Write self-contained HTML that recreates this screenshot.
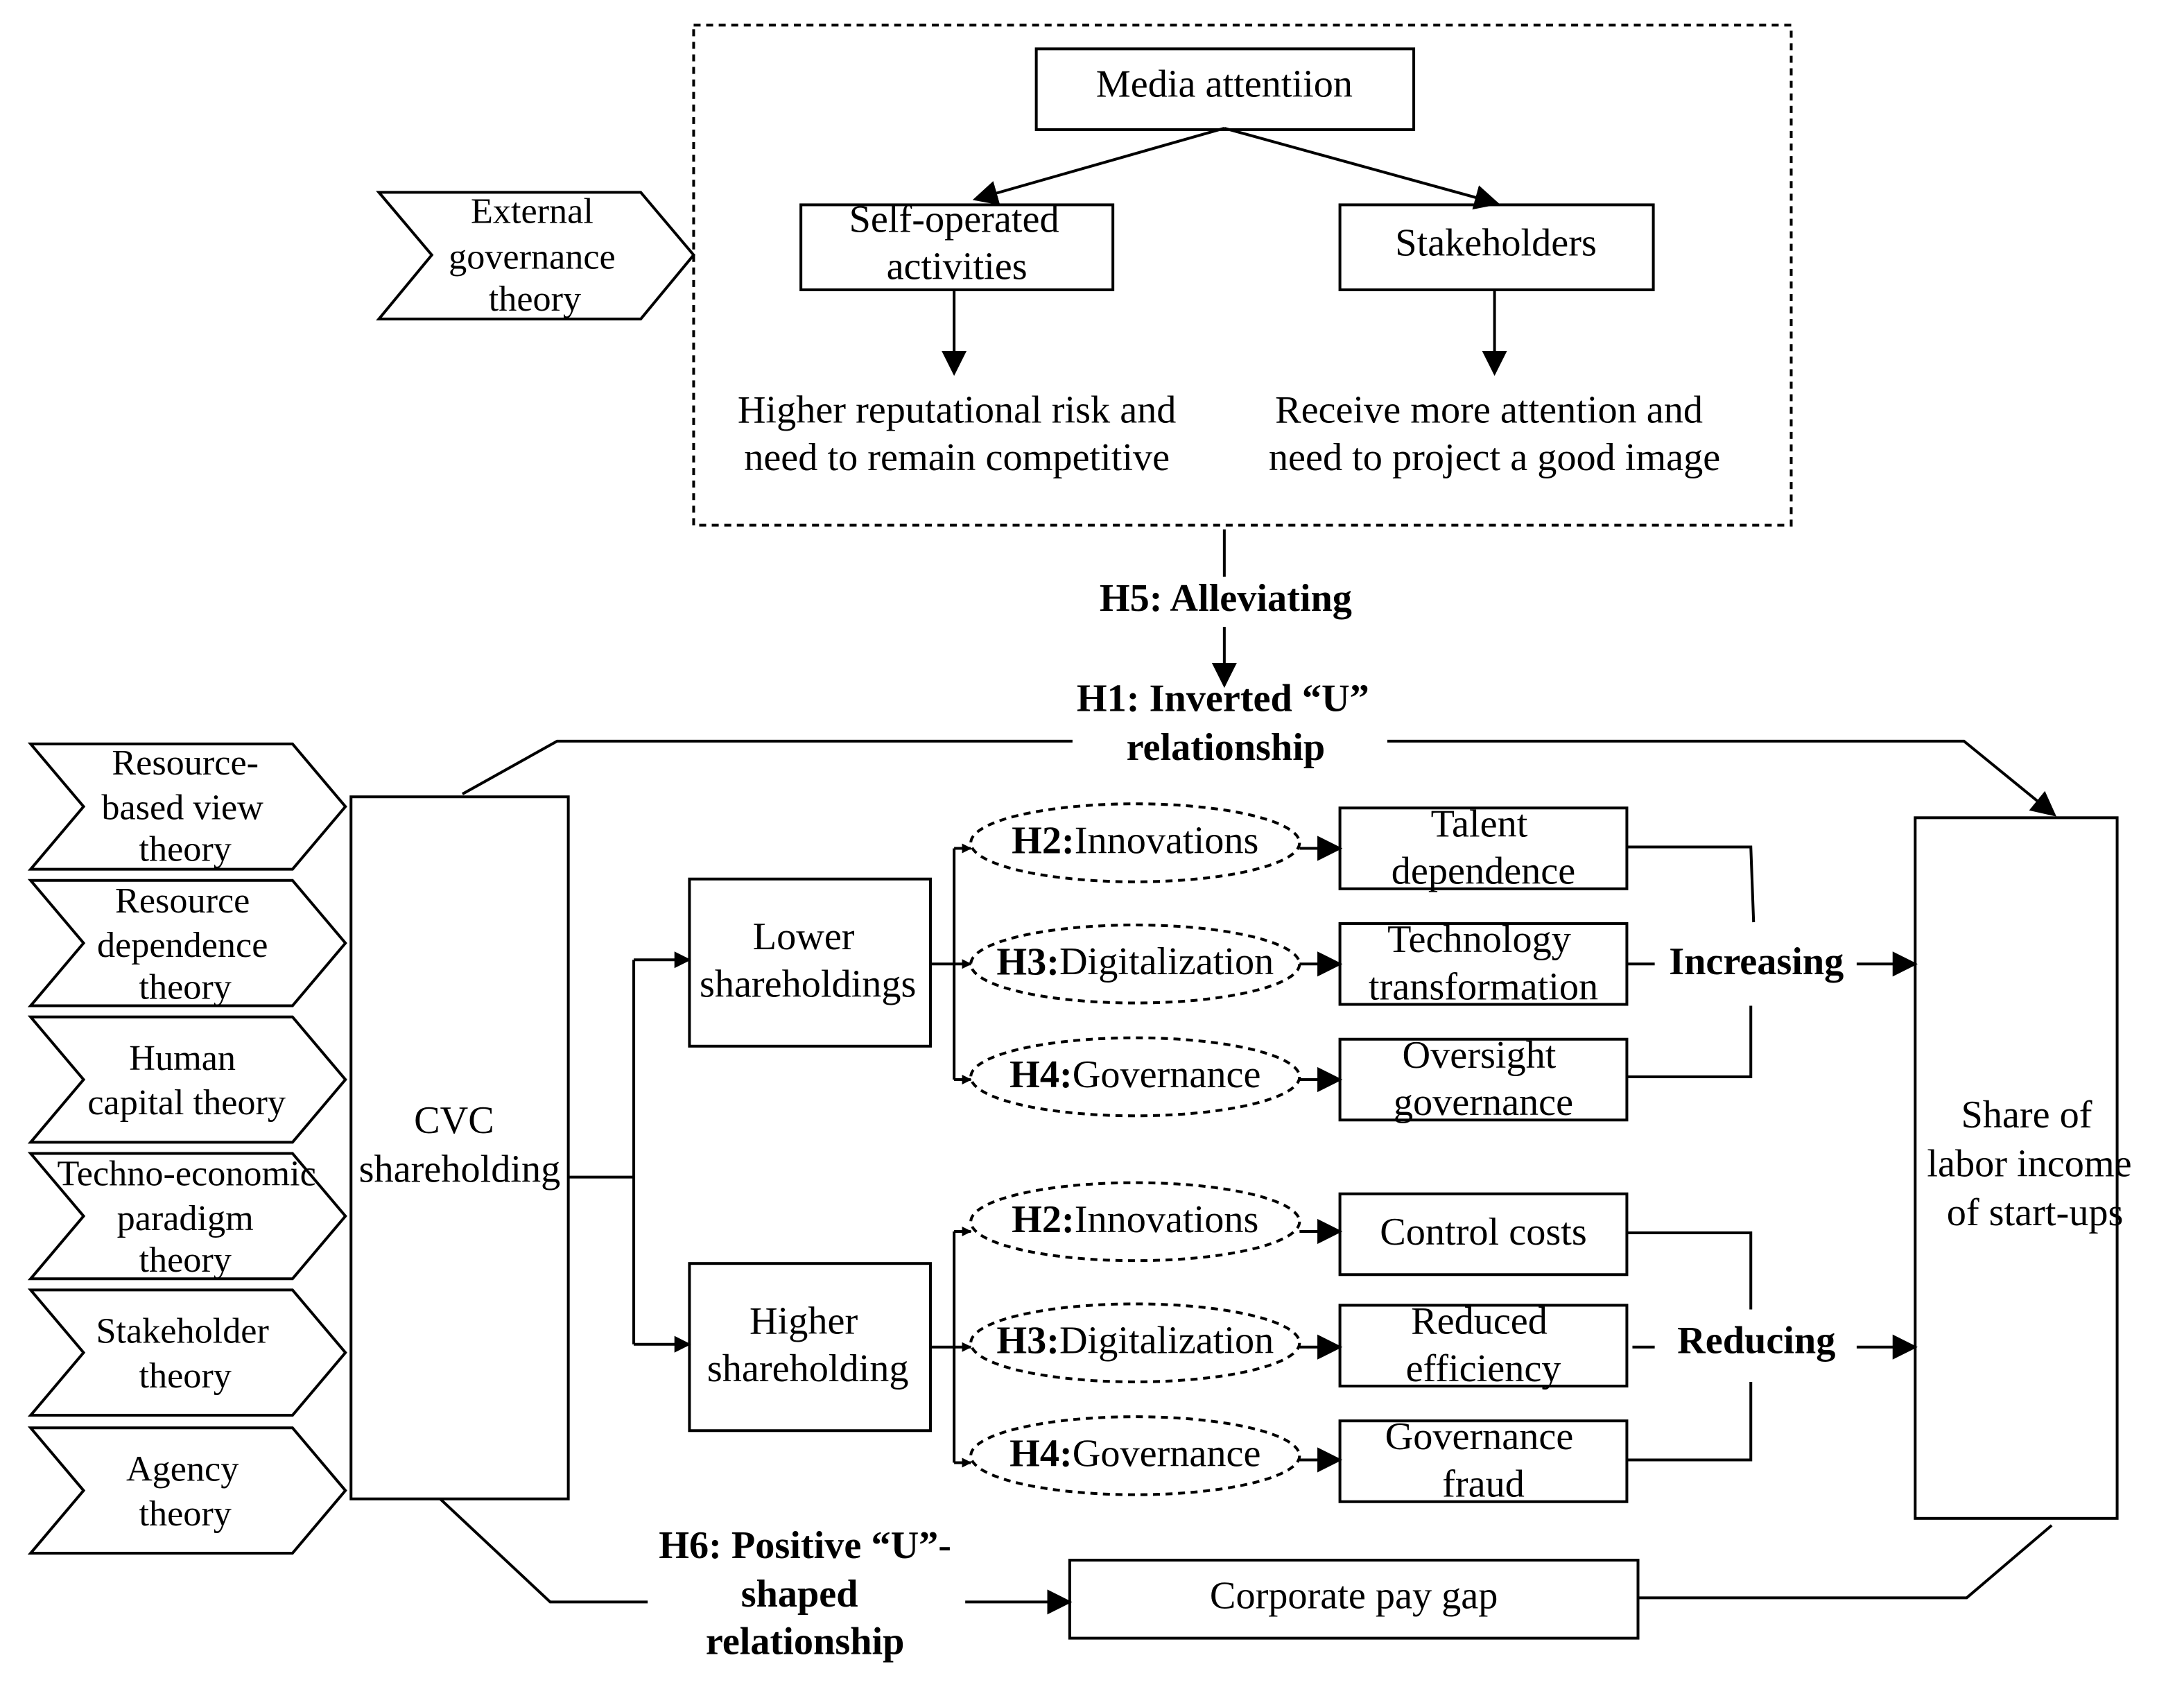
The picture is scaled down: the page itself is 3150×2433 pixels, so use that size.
<!DOCTYPE html>
<html><head><meta charset="utf-8"><style>
html,body{margin:0;padding:0;background:#fff;}
svg{display:block;}
text{font-family:"Liberation Serif",serif;font-size:28px;fill:#000;text-anchor:middle;dominant-baseline:middle;}
.s{font-size:26px;}
.b{font-weight:bold;}
</style></head><body>
<svg width="3150" height="2433" viewBox="0 0 1568 1211" xmlns="http://www.w3.org/2000/svg">
<defs>
<marker id="a" viewBox="0 0 10 10" refX="9" refY="5" markerWidth="7" markerHeight="7" orient="auto" markerUnits="userSpaceOnUse"><path d="M0,0 L10,5 L0,10z"/></marker>
<marker id="A" viewBox="0 0 10 10" refX="9" refY="5" markerWidth="18" markerHeight="18" orient="auto" markerUnits="userSpaceOnUse"><path d="M0,0 L10,5 L0,10z"/></marker>
<marker id="m" viewBox="0 0 10 10" refX="9" refY="5" markerWidth="12" markerHeight="12" orient="auto" markerUnits="userSpaceOnUse"><path d="M0,0 L10,5 L0,10z"/></marker>
</defs>
<g fill="none" stroke="#000" stroke-width="2">
<rect x="498" y="18" width="788" height="359" stroke-dasharray="5,4"/>
<rect x="744" y="35" width="271" height="58"/>
<rect x="575" y="147" width="224" height="61"/>
<rect x="962" y="147" width="225" height="61"/>
<line x1="879" y1="92" x2="700" y2="143" marker-end="url(#A)"/>
<line x1="879" y1="92" x2="1075" y2="146" marker-end="url(#A)"/>
<line x1="685" y1="208" x2="685" y2="268" marker-end="url(#A)"/>
<line x1="1073" y1="208" x2="1073" y2="268" marker-end="url(#A)"/>
<polygon points="272,138 460,138 498,183 460,229 272,229 310,183"/>
<line x1="879" y1="380" x2="879" y2="414"/>
<line x1="879" y1="450" x2="879" y2="492" marker-end="url(#A)"/>
<polyline points="332,570 400,532 770,532"/>
<polyline points="996,532 1410,532 1475,585" marker-end="url(#A)"/>
<polygon points="22,534 210,534 248,579 210,624 22,624 60,579"/>
<polygon points="22,632 210,632 248,677 210,722 22,722 60,677"/>
<polygon points="22,730 210,730 248,775 210,820 22,820 60,775"/>
<polygon points="22,828 210,828 248,873 210,918 22,918 60,873"/>
<polygon points="22,926 210,926 248,971 210,1016 22,1016 60,971"/>
<polygon points="22,1025 210,1025 248,1070 210,1115 22,1115 60,1070"/>
<rect x="252" y="572" width="156" height="504"/>
<polyline points="408,845 455,845"/>
<line x1="455" y1="689" x2="455" y2="965"/>
<line x1="455" y1="689" x2="495" y2="689" marker-end="url(#m)"/>
<line x1="455" y1="965" x2="495" y2="965" marker-end="url(#m)"/>
<rect x="495" y="631" width="173" height="120"/>
<rect x="495" y="907" width="173" height="120"/>
<line x1="668" y1="692" x2="685" y2="692"/>
<line x1="685" y1="609" x2="685" y2="775"/>
<line x1="685" y1="609" x2="697" y2="609" marker-end="url(#a)"/>
<line x1="685" y1="692" x2="697" y2="692" marker-end="url(#a)"/>
<line x1="685" y1="775" x2="697" y2="775" marker-end="url(#a)"/>
<line x1="668" y1="967" x2="685" y2="967"/>
<line x1="685" y1="884" x2="685" y2="1050"/>
<line x1="685" y1="884" x2="697" y2="884" marker-end="url(#a)"/>
<line x1="685" y1="967" x2="697" y2="967" marker-end="url(#a)"/>
<line x1="685" y1="1050" x2="697" y2="1050" marker-end="url(#a)"/>
<g stroke-dasharray="5,4">
<ellipse cx="815" cy="605" rx="118" ry="28"/>
<ellipse cx="815" cy="692" rx="118" ry="28"/>
<ellipse cx="815" cy="773" rx="118" ry="28"/>
<ellipse cx="815" cy="877" rx="118" ry="28"/>
<ellipse cx="815" cy="964" rx="118" ry="28"/>
<ellipse cx="815" cy="1045" rx="118" ry="28"/>
</g>
<line x1="933" y1="609" x2="962" y2="609" marker-end="url(#A)"/>
<line x1="933" y1="692" x2="962" y2="692" marker-end="url(#A)"/>
<line x1="933" y1="775" x2="962" y2="775" marker-end="url(#A)"/>
<line x1="933" y1="884" x2="962" y2="884" marker-end="url(#A)"/>
<line x1="933" y1="967" x2="962" y2="967" marker-end="url(#A)"/>
<line x1="933" y1="1048" x2="962" y2="1048" marker-end="url(#A)"/>
<rect x="962" y="580" width="206" height="58"/>
<rect x="962" y="663" width="206" height="58"/>
<rect x="962" y="746" width="206" height="58"/>
<rect x="962" y="857" width="206" height="58"/>
<rect x="962" y="937" width="206" height="58"/>
<rect x="962" y="1020" width="206" height="58"/>
<polyline points="1168,608 1257,608 1259,662"/>
<line x1="1168" y1="692" x2="1188" y2="692"/>
<polyline points="1257,722 1257,773 1168,773"/>
<line x1="1333" y1="692" x2="1375" y2="692" marker-end="url(#A)"/>
<polyline points="1168,885 1257,885 1257,940"/>
<line x1="1172" y1="967" x2="1188" y2="967"/>
<polyline points="1257,992 1257,1048 1168,1048"/>
<line x1="1333" y1="967" x2="1375" y2="967" marker-end="url(#A)"/>
<rect x="1375" y="587" width="145" height="503"/>
<polyline points="316,1076 395,1150 465,1150"/>
<line x1="693" y1="1150" x2="768" y2="1150" marker-end="url(#A)"/>
<rect x="768" y="1120" width="408" height="56"/>
<polyline points="1176,1147 1412,1147 1473,1095"/>
</g>
<text x="879" y="63">Media attentiion</text>
<text x="685" y="160">Self-operated</text>
<text x="687" y="194">activities</text>
<text x="1074" y="177">Stakeholders</text>
<text x="687" y="297">Higher reputational risk and</text>
<text x="687" y="331">need to remain competitive</text>
<text x="1069" y="297">Receive more attention and</text>
<text x="1073" y="331">need to project a good image</text>
<text x="382" y="154" class="s">External</text>
<text x="382" y="187" class="s">governance</text>
<text x="384" y="217" class="s">theory</text>
<text x="880" y="432" class="b">H5: Alleviating</text>
<text x="878" y="504" class="b">H1: Inverted “U”</text>
<text x="880" y="539" class="b">relationship</text>
<text x="133" y="550" class="s">Resource-</text>
<text x="131" y="582" class="s">based view</text>
<text x="133" y="612" class="s">theory</text>
<text x="131" y="649" class="s">Resource</text>
<text x="131" y="681" class="s">dependence</text>
<text x="133" y="711" class="s">theory</text>
<text x="131" y="762" class="s">Human</text>
<text x="134" y="794" class="s">capital theory</text>
<text x="134" y="845" class="s">Techno-economic</text>
<text x="133" y="877" class="s">paradigm</text>
<text x="133" y="907" class="s">theory</text>
<text x="131" y="958" class="s">Stakeholder</text>
<text x="133" y="990" class="s">theory</text>
<text x="131" y="1057" class="s">Agency</text>
<text x="133" y="1089" class="s">theory</text>
<text x="326" y="807">CVC</text>
<text x="330" y="842">shareholding</text>
<text x="577" y="675">Lower</text>
<text x="580" y="709">shareholdings</text>
<text x="577" y="951">Higher</text>
<text x="580" y="985">shareholding</text>
<text x="815" y="606"><tspan font-weight="bold">H2:</tspan>Innovations</text>
<text x="815" y="693"><tspan font-weight="bold">H3:</tspan>Digitalization</text>
<text x="815" y="774"><tspan font-weight="bold">H4:</tspan>Governance</text>
<text x="815" y="878"><tspan font-weight="bold">H2:</tspan>Innovations</text>
<text x="815" y="965"><tspan font-weight="bold">H3:</tspan>Digitalization</text>
<text x="815" y="1046"><tspan font-weight="bold">H4:</tspan>Governance</text>
<text x="1062" y="594">Talent</text>
<text x="1065" y="628">dependence</text>
<text x="1062" y="677">Technology</text>
<text x="1065" y="711">transformation</text>
<text x="1062" y="760">Oversight</text>
<text x="1065" y="794">governance</text>
<text x="1065" y="887">Control costs</text>
<text x="1062" y="951">Reduced</text>
<text x="1065" y="985">efficiency</text>
<text x="1062" y="1034">Governance</text>
<text x="1065" y="1068">fraud</text>
<text x="1261" y="693" class="b">Increasing</text>
<text x="1261" y="965" class="b">Reducing</text>
<text x="1455" y="803">Share of</text>
<text x="1457" y="838">labor income</text>
<text x="1461" y="873">of  start-ups</text>
<text x="578" y="1112" class="b">H6: Positive “U”-</text>
<text x="574" y="1147" class="b">shaped</text>
<text x="578" y="1181" class="b">relationship</text>
<text x="972" y="1148">Corporate pay gap</text>
</svg>
</body></html>
